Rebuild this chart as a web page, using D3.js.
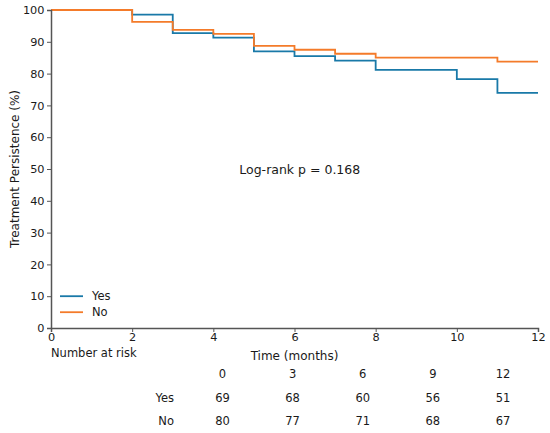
<!DOCTYPE html>
<html>
<head>
<meta charset="utf-8">
<script src="https://cdn.jsdelivr.net/npm/d3@7"></script>
<style>
  body { margin: 0; background: #fff; }
  text { font-family: "DejaVu Sans", sans-serif; fill: #1a1a1a; }
</style>
</head>
<body>
<div id="chart"></div>
<script>
// DATA
const groups = ["Yes", "No"];
const yesTimes  = [0, 2, 3, 4, 5, 6, 7, 8, 10, 11, 12];
const yesSurv   = [100, 98.55, 92.75, 91.30, 86.96, 85.51, 84.06, 81.16, 78.26, 73.91, 73.91];
const noTimes   = [0, 2, 3, 4, 5, 6, 7, 8, 11, 12];
const noSurv    = [100, 96.25, 93.75, 92.5, 88.75, 87.5, 86.25, 85, 83.75, 83.75];
const xTicks    = [0, 2, 4, 6, 8, 10, 12];
const yTicks    = [0, 10, 20, 30, 40, 50, 60, 70, 80, 90, 100];
const riskTimes = [0, 3, 6, 9, 12];
const riskYes   = [69, 68, 60, 56, 51];
const riskNo    = [80, 77, 71, 68, 67];
const pText     = "Log-rank p = 0.168";

function render() {
    const width  = 550;
    const height = 433;
    const margin = { top: 10, right: 12, bottom: 105, left: 51 };
    const color  = d3.scaleOrdinal(groups, ["#1979a8", "#f47b2a"]);

    const svg = d3.select('#chart').append('svg')
        .attr('width', width)
        .attr('height', height);

    const x = d3.scaleLinear().domain([0, 12]).range([margin.left, width - margin.right]);
    const y = d3.scaleLinear().domain([0, 100]).range([height - margin.bottom, margin.top]);

    // curves
    const line = d3.line()
        .x(d => x(d[0]))
        .y(d => y(d[1]))
        .curve(d3.curveStepAfter);

    const series = [
        { name: "Yes", pts: d3.zip(yesTimes, yesSurv) },
        { name: "No",  pts: d3.zip(noTimes, noSurv) }
    ];

    svg.selectAll('path.km')
        .data(series)
        .enter()
        .append('path')
            .attr('class', 'km')
            .attr('fill', 'none')
            .attr('stroke', d => color(d.name))
            .attr('stroke-width', 1.8)
            .attr('d', d => line(d.pts));

    // axes
    const xAxis = svg.append('g')
        .attr('transform', `translate(0,${y(0)})`)
        .call(d3.axisBottom(x).tickValues(xTicks).tickSize(4).tickPadding(1));
    const yAxis = svg.append('g')
        .attr('transform', `translate(${x(0)},0)`)
        .call(d3.axisLeft(y).tickValues(yTicks).tickSize(4).tickPadding(2.5));

    [xAxis, yAxis].forEach(g => {
        g.select('.domain').attr('stroke', '#555').attr('stroke-width', 1.5);
        g.selectAll('.tick line').attr('stroke', '#555');
        g.selectAll('.tick text').style('font-size', '11.3px').attr('fill', '#1a1a1a');
    });

    // axis titles
    svg.append('text')
        .attr('x', (x(0) + x(12)) / 2)
        .attr('y', 360)
        .attr('text-anchor', 'middle')
        .style('font-size', '12px')
        .text('Time (months)');

    svg.append('text')
        .attr('transform', `translate(18.5,${(y(0) + y(100)) / 2})rotate(-90)`)
        .attr('text-anchor', 'middle')
        .style('font-size', '12px')
        .text('Treatment Persistence (%)');

    // p value
    svg.append('text')
        .attr('x', x(4.64))
        .attr('y', y(50) + 4.5)
        .style('font-size', '12.5px')
        .text(pText);

    // legend
    const legend = svg.append('g');
    groups.forEach((g, i) => {
        const ly = y(10) + i * 16;
        legend.append('line')
            .attr('x1', 60).attr('x2', 83)
            .attr('y1', ly).attr('y2', ly)
            .attr('stroke', color(g))
            .attr('stroke-width', 1.8);
        legend.append('text')
            .attr('x', 92)
            .attr('y', ly + 4)
            .style('font-size', '11.5px')
            .text(g);
    });

    // number at risk table
    svg.append('text')
        .attr('x', 51)
        .attr('y', 357)
        .style('font-size', '11.5px')
        .text('Number at risk');

    const col = d3.scalePoint().domain(riskTimes).range([222.5, 503]);
    const rowY = [374, 397.5, 421];

    svg.append('g').selectAll('text')
        .data(riskTimes)
        .enter()
        .append('text')
            .attr('x', d => col(d))
            .attr('y', rowY[0] + 4)
            .attr('text-anchor', 'middle')
            .style('font-size', '11.5px')
            .text(d => d);

    [riskYes, riskNo].forEach((row, r) => {
        svg.append('text')
            .attr('x', 174)
            .attr('y', rowY[r + 1] + 4)
            .attr('text-anchor', 'end')
            .style('font-size', '11.5px')
            .text(groups[r]);
        svg.append('g').selectAll('text')
            .data(row)
            .enter()
            .append('text')
                .attr('x', (d, i) => col(riskTimes[i]))
                .attr('y', rowY[r + 1] + 4)
                .attr('text-anchor', 'middle')
                .style('font-size', '11.5px')
                .text(d => d);
    });
}

window.onload = render;
</script>
</body>
</html>
